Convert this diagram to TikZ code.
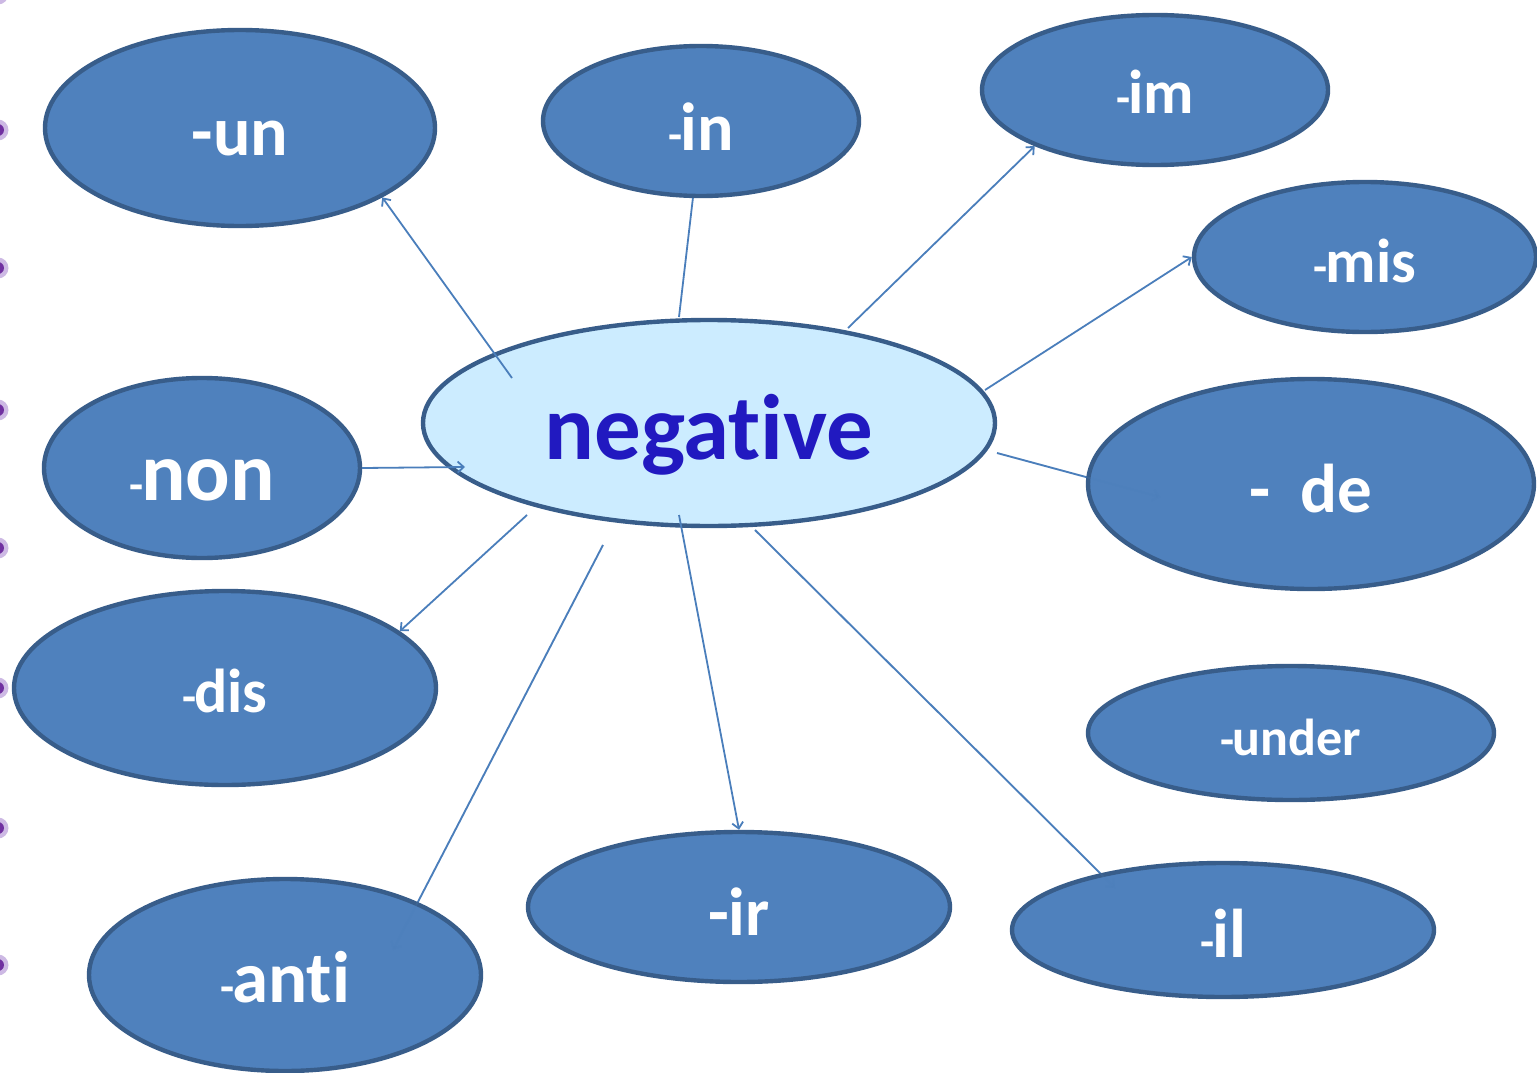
\documentclass[tikz,border=0pt]{standalone}
\usepackage{fontspec}
\setmainfont{Carlito}[Ligatures=NoCommon]
\usetikzlibrary{shapes.geometric,arrows.meta,calc}
\definecolor{efill}{RGB}{79,129,189}
\definecolor{eline}{RGB}{56,93,138}
\definecolor{nfill}{RGB}{204,236,255}
\definecolor{ntext}{RGB}{33,25,192}
\definecolor{cline}{RGB}{74,126,187}
\definecolor{bdark}{RGB}{112,48,160}
\definecolor{blight}{RGB}{205,185,228}
\newcommand{\myfs}[1]{\bfseries\fontsize{#1}{#1}\selectfont}
\newcommand{\smh}{{\myfs{46}-}\kern-2pt}
\tikzset{
  pref/.style={ellipse, draw=eline, line width=4.4pt, fill=efill, text=white, inner sep=0pt, text depth=0pt},
  link/.style={draw=cline, line width=1.8pt},
  faint/.style={draw opacity=0.22},
  arr/.style={-{Straight Barb[length=6pt,width=11pt]}},
  bullet/.style={fill=bdark}
}
\begin{document}
\begin{tikzpicture}[x=1pt,y=-1pt]
\useasboundingbox (0,0) rectangle (1537,1073);
\clip (0,0) rectangle (1537,1073);
\fill[white] (0,0) rectangle (1537,1073);
% bullets
\foreach \by in {-6,130,268,410,548,688,828,965}{
  \fill[blight] (-2,\by) circle (10.5);
  \fill[bullet] (-2,\by) circle (6);
}
% centre position for relative coordinates
\coordinate (c) at (709,423);
% connectors passing under the prefix ellipses
\coordinate (s-de) at ($(c)+(288,30)$);
\coordinate (t-de) at ($(c)+(451,74)$);
\coordinate (s-anti) at ($(c)+(-106,122)$);
\coordinate (t-anti) at ($(c)+(-316,527)$);
\coordinate (s-il) at ($(c)+(46,107)$);
\coordinate (t-il) at ($(c)+(406,465)$);
\draw[link,arr] (s-de) -- (t-de);
\draw[link,arr] (s-anti) -- (t-anti);
\draw[link,arr] (s-il) -- (t-il);
% prefix ellipses
\node[pref, minimum width=390, minimum height=196, font=\myfs{70}, text height=54] (un) at (240,128) {-un};
\node[pref, minimum width=316, minimum height=150, font=\myfs{68}, text height=58] (in) at (701,121) {\smh in};
\node[pref, minimum width=346, minimum height=150, font=\myfs{62}, text height=46] (im) at (1155,90) {\smh im};
\node[pref, minimum width=342, minimum height=150, font=\myfs{62}, text height=50] (mis) at (1365,257) {\smh mis};
\node[pref, minimum width=316, minimum height=180, font=\myfs{83}, text height=64] (non) at (202,468) {\smh non};
\node[pref, minimum width=446, minimum height=210, font=\myfs{69}, text height=56] (de) at (1311,484) {-\hspace{30pt}de};
\node[pref, minimum width=422, minimum height=194, font=\myfs{62}, text height=48] (dis) at (225,688) {\smh dis};
\node[pref, minimum width=406, minimum height=134, font=\myfs{52}, text height=44] (under) at (1291,733) {\smh under};
\node[pref, minimum width=422, minimum height=150, font=\myfs{68}, text height=56] (ir) at (739,907) {-ir};
\node[pref, minimum width=422, minimum height=134, font=\myfs{69}, text height=54] (il) at (1223,930) {\smh il};
\node[pref, minimum width=392, minimum height=192, font=\myfs{73}, text height=54] (anti) at (285,975) {\smh anti};
% faint continuation of the connectors seen through the ellipses
\draw[link,faint,arr] (s-de) -- (t-de);
\draw[link,faint,arr] (s-anti) -- (t-anti);
\draw[link,faint,arr] (s-il) -- (t-il);
% central ellipse
\node[ellipse, draw=eline, line width=4.4pt, fill=nfill, text=ntext, inner sep=0pt, minimum width=572, minimum height=206, font=\myfs{93}, text height=72, text depth=0pt] (neg) at (c) {negative};
% connectors drawn on top
\coordinate (s-un) at ($(c)+(-197,-45)$);
\coordinate (s-in) at ($(c)+(-30,-106)$);
\coordinate (s-im) at ($(c)+(139,-95)$);
\coordinate (s-mis) at ($(c)+(276,-33)$);
\coordinate (t-non) at ($(c)+(-244,44)$);
\coordinate (s-dis) at ($(c)+(-182,92)$);
\coordinate (s-ir) at ($(c)+(-30,92)$);
\draw[link,arr] (s-un) -- (un.-26.7);
\draw[link] (s-in) -- (in.-96.8);
\draw[link,arr] (s-im) -- (im.-155.9);
\draw[link,arr] (s-mis) -- (mis.180);
\draw[link,arr] (non.east) -- (t-non);
\draw[link,arr] (s-dis) -- (dis.18);
\draw[link,arr] (s-ir) -- (ir.90);
\end{tikzpicture}
\end{document}
